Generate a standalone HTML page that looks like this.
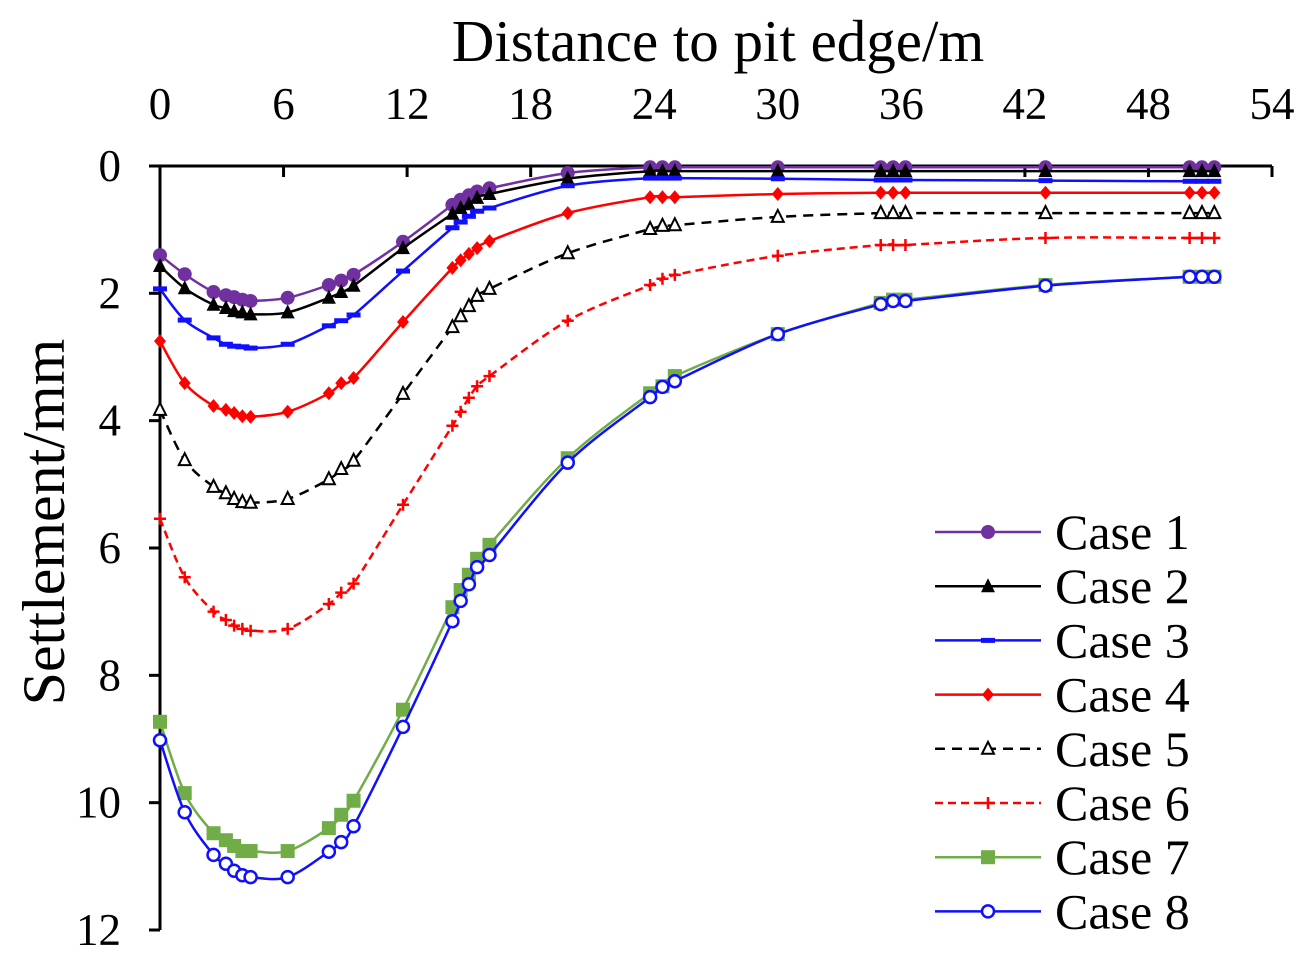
<!DOCTYPE html>
<html><head><meta charset="utf-8"><style>
html,body{margin:0;padding:0;background:#fff;}
svg{display:block;font-family:"Liberation Serif",serif;}
</style></head><body>
<svg id="chart" width="1312" height="972" viewBox="0 0 1312 972" xmlns="http://www.w3.org/2000/svg"></svg>
<script>
const xValues=[0,1.2,2.6,3.2,3.6,4.0,4.4,6.2,8.2,8.8,9.4,11.8,14.2,14.6,15.0,15.4,16.0,19.8,23.8,24.4,25,30,35,35.6,36.2,43,50,50.6,51.2];
const case1=[1.4,1.7,1.98,2.03,2.06,2.1,2.12,2.07,1.87,1.8,1.71,1.19,0.61,0.53,0.46,0.4,0.35,0.11,0.02,0.02,0.02,0.02,0.02,0.02,0.02,0.02,0.02,0.02,0.02];
const case2=[1.57,1.92,2.18,2.23,2.28,2.3,2.33,2.3,2.07,1.98,1.88,1.29,0.75,0.66,0.6,0.5,0.44,0.2,0.08,0.08,0.08,0.08,0.08,0.08,0.08,0.08,0.08,0.08,0.08];
const case3=[1.93,2.42,2.7,2.8,2.83,2.84,2.86,2.8,2.51,2.43,2.34,1.65,0.97,0.88,0.79,0.71,0.66,0.31,0.19,0.19,0.19,0.2,0.22,0.22,0.22,0.23,0.24,0.24,0.24];
const case4=[2.75,3.41,3.77,3.83,3.88,3.93,3.94,3.86,3.57,3.41,3.33,2.45,1.6,1.48,1.38,1.29,1.18,0.74,0.49,0.49,0.49,0.44,0.42,0.42,0.42,0.42,0.42,0.42,0.42];
const case5=[3.83,4.62,5.04,5.14,5.23,5.28,5.29,5.23,4.92,4.76,4.63,3.58,2.53,2.36,2.2,2.04,1.93,1.37,0.99,0.94,0.93,0.8,0.74,0.74,0.74,0.74,0.74,0.74,0.74];
const case6=[5.54,6.46,7.0,7.13,7.22,7.27,7.3,7.27,6.88,6.7,6.56,5.32,4.08,3.86,3.64,3.46,3.3,2.43,1.87,1.77,1.71,1.41,1.24,1.24,1.24,1.13,1.13,1.13,1.13];
const case7=[8.73,9.85,10.48,10.59,10.68,10.76,10.76,10.76,10.4,10.19,9.97,8.54,6.93,6.66,6.42,6.17,5.95,4.59,3.57,3.46,3.3,2.64,2.15,2.1,2.1,1.87,1.74,1.74,1.74];
const case8=[9.02,10.15,10.82,10.96,11.07,11.14,11.17,11.17,10.77,10.62,10.37,8.81,7.15,6.83,6.57,6.3,6.11,4.66,3.63,3.47,3.38,2.64,2.17,2.12,2.12,1.88,1.74,1.74,1.74];
const xTicks=[0,6,12,18,24,30,36,42,48,54];
const yTicks=[0,2,4,6,8,10,12];
const seriesNames=["Case 1","Case 2","Case 3","Case 4","Case 5","Case 6","Case 7","Case 8"];

const NS="http://www.w3.org/2000/svg";
const svg=document.getElementById('chart');
const X0=160,X1=1272,Y0=166,Y1=930;
const xs=v=>X0+(v-0)/54*(X1-X0);
const ys=v=>Y0+v/12*(Y1-Y0);
function mk(tag,attrs,parent){const e=document.createElementNS(NS,tag);for(const k in attrs)e.setAttribute(k,attrs[k]);(parent||svg).appendChild(e);return e;}

const ax=mk('g',{});


mk('line',{x1:X0,y1:Y0,x2:X1,y2:Y0,stroke:'#000','stroke-width':3},ax);
mk('line',{x1:X0,y1:Y0,x2:X0,y2:Y1,stroke:'#000','stroke-width':3},ax);
xTicks.forEach(t=>{
  mk('line',{x1:xs(t),y1:Y0,x2:xs(t),y2:Y0+11,stroke:'#000','stroke-width':3},ax);
  const tx=mk('text',{x:xs(t),y:119,'font-size':45,'text-anchor':'middle'},ax);
  tx.textContent=t;
  
  
});
yTicks.forEach(t=>{
  mk('line',{x1:X0-11,y1:ys(t),x2:X0,y2:ys(t),stroke:'#000','stroke-width':3},ax);
  const tx=mk('text',{x:121,y:ys(t)+15,'font-size':45,'text-anchor':'end'},ax);
  tx.textContent=t;
  
  
});
const xt=mk('text',{x:718,y:61,'font-size':59,'text-anchor':'middle'});
xt.textContent='Distance to pit edge/m';


const yt=mk('text',{x:64,y:522,'font-size':60,'text-anchor':'middle',transform:'rotate(-90 64 522)'});
yt.textContent='Settlement/mm';



const styles=[
 {c:'#7030a0',m:'circle',dash:''},
 {c:'#000000',m:'tri',dash:''},
 {c:'#1010ff',m:'dash',dash:''},
 {c:'#ff0000',m:'diamond',dash:''},
 {c:'#000000',m:'otri',dash:'10 7'},
 {c:'#ff0000',m:'plus',dash:'8 5'},
 {c:'#70ad47',m:'square',dash:''},
 {c:'#1010ff',m:'ocircle',dash:''}
];
const data=[case1,case2,case3,case4,case5,case6,case7,case8];

function smoothPath(pts){
  let d=`M${pts[0][0]},${pts[0][1]}`;
  for(let i=0;i<pts.length-1;i++){
    const p0=pts[Math.max(0,i-1)],p1=pts[i],p2=pts[i+1],p3=pts[Math.min(pts.length-1,i+2)];
    const t=0.5/3;
    const c1=[p1[0]+(p2[0]-p0[0])*t,p1[1]+(p2[1]-p0[1])*t];
    const c2=[p2[0]-(p3[0]-p1[0])*t,p2[1]-(p3[1]-p1[1])*t];
    d+=` C${c1[0]},${c1[1]} ${c2[0]},${c2[1]} ${p2[0]},${p2[1]}`;
  }
  return d;
}
function marker(g,type,x,y,c){
  let e;
  if(type==='circle')e=mk('circle',{cx:x,cy:y,r:7,fill:c},g);
  else if(type==='ocircle')e=mk('circle',{cx:x,cy:y,r:6,fill:'#fff',stroke:c,'stroke-width':2.5},g);
  else if(type==='tri')e=mk('polygon',{points:`${x},${y-8} ${x-7},${y+6} ${x+7},${y+6}`,fill:c},g);
  else if(type==='otri')e=mk('polygon',{points:`${x},${y-7} ${x-6},${y+5} ${x+6},${y+5}`,fill:'#fff',stroke:c,'stroke-width':2},g);
  else if(type==='dash')e=mk('rect',{x:x-7,y:y-2.5,width:14,height:5,fill:c},g);
  else if(type==='diamond')e=mk('polygon',{points:`${x},${y-7} ${x+6},${y} ${x},${y+7} ${x-6},${y}`,fill:c},g);
  else if(type==='square')e=mk('rect',{x:x-7,y:y-7,width:14,height:14,fill:c},g);
  else if(type==='plus')e=mk('path',{d:`M${x-6},${y}H${x+6}M${x},${y-6}V${y+6}`,stroke:c,'stroke-width':2.5,fill:'none'},g);
  
  
}
data.forEach((arr,si)=>{
  const st=styles[si];
  const g=mk('g',{});
  
  
  const pts=arr.map((v,i)=>[xs(xValues[i]),ys(v)]);
  const p=mk('path',{d:smoothPath(pts),fill:'none',stroke:st.c,'stroke-width':2.5,'stroke-dasharray':st.dash},g);
  
  
  pts.forEach(q=>marker(g,st.m,q[0],q[1],st.c));
});
const lg=mk('g',{});


seriesNames.forEach((n,i)=>{
  const st=styles[i];const y=532+i*54.2;
  const g=mk('g',{},lg);
  
  
  mk('line',{x1:935,y1:y,x2:1041,y2:y,stroke:st.c,'stroke-width':2.5,'stroke-dasharray':st.dash},g);
  marker(g,st.m,988,y,st.c);
  const t=mk('text',{x:1055,y:y+17,'font-size':50},g);
  t.textContent=n;
});
</script>
</body></html>
